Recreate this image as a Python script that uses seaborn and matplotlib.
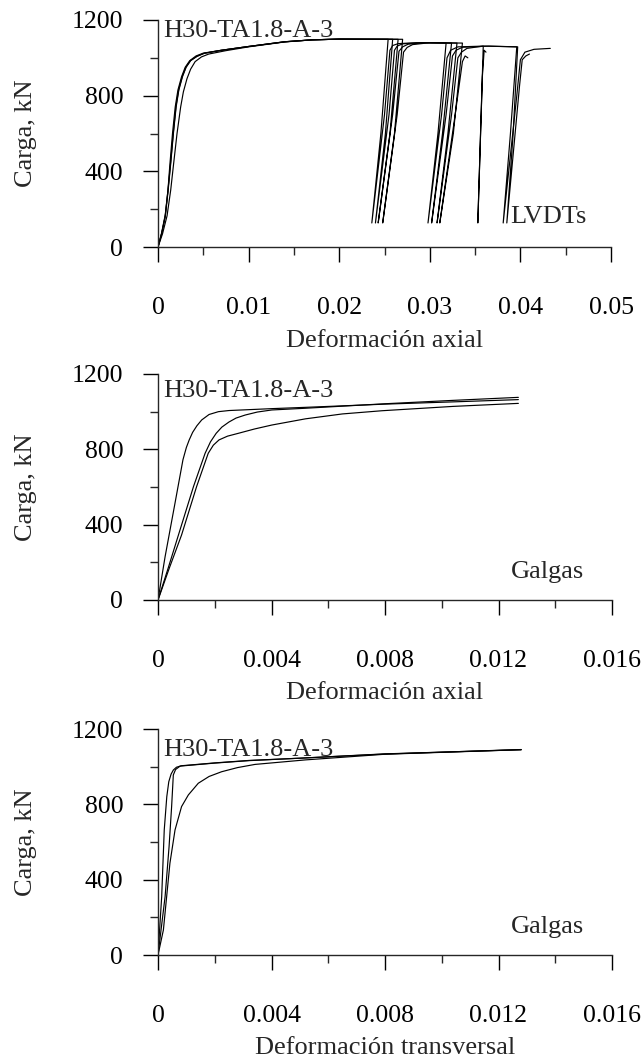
import numpy as np
import pandas as pd
import matplotlib
matplotlib.use("Agg")
import matplotlib.pyplot as plt
import seaborn as sns

# ---------------- data ----------------
# Panel 1: LVDTs (axial strain vs load) - four LVDT records with unload/reload cycles
lvdt_a_x = [0, 0.0004, 0.0008, 0.0011, 0.0013, 0.0016, 0.0019, 0.0022, 0.0026, 0.0030, 0.0035, 0.0042,
            0.0050, 0.0070, 0.0100, 0.0140, 0.0170, 0.0200, 0.0254,
            0.0246, 0.0236, 0.0250, 0.0256, 0.0259, 0.0265, 0.0285, 0.0318,
            0.0309, 0.0298, 0.0313, 0.0319, 0.0323, 0.0331, 0.0360, 0.0396,
            0.0389, 0.0381, 0.0396, 0.0400, 0.0405, 0.0415, 0.0433]
lvdt_a_y = [0, 70, 165, 300, 430, 600, 740, 830, 900, 950, 985, 1010,
            1025, 1040, 1060, 1085, 1095, 1099, 1098,
            600, 127, 700, 1040, 1065, 1075, 1080, 1078,
            600, 127, 700, 1000, 1040, 1058, 1062, 1058,
            600, 127, 800, 990, 1030, 1045, 1050]

lvdt_b_x = [0, 0.0004, 0.0008, 0.0011, 0.0014, 0.0017, 0.0020, 0.0023, 0.0027, 0.0031, 0.0036, 0.0043,
            0.0051, 0.0070, 0.0100, 0.0140, 0.0170, 0.0200, 0.0259,
            0.0251, 0.0240, 0.0255, 0.0261, 0.0264, 0.0270, 0.0290, 0.0324,
            0.0314, 0.0302, 0.0318, 0.0325, 0.0329, 0.0336, 0.0365, 0.0397,
            0.0392, 0.0385, 0.0399, 0.0402, 0.0406, 0.0410]
lvdt_b_y = [0, 70, 160, 290, 440, 600, 740, 830, 900, 950, 985, 1008,
            1024, 1040, 1060, 1085, 1095, 1099, 1098,
            600, 127, 700, 1040, 1062, 1074, 1080, 1078,
            600, 127, 700, 1010, 1040, 1056, 1062, 1058,
            600, 127, 850, 990, 1010, 1020]

lvdt_c_x = [0, 0.0004, 0.0008, 0.0011, 0.0014, 0.0017, 0.0020, 0.0023, 0.0027, 0.0031, 0.0036, 0.0043,
            0.0051, 0.0070, 0.0100, 0.0140, 0.0170, 0.0200, 0.0265,
            0.0256, 0.0243, 0.0259, 0.0266, 0.0270, 0.0276, 0.0295, 0.0330,
            0.0320, 0.0308, 0.0324, 0.0331, 0.0335, 0.0341, 0.0359,
            0.0356, 0.0353, 0.0358, 0.0360, 0.0362]
lvdt_c_y = [0, 75, 170, 300, 450, 610, 750, 835, 905, 952, 986, 1008,
            1024, 1040, 1060, 1085, 1095, 1099, 1098,
            600, 127, 700, 1035, 1058, 1072, 1080, 1078,
            600, 127, 700, 1000, 1030, 1050, 1062,
            600, 127, 900, 1040, 1030]

lvdt_d_x = [0, 0.0005, 0.0010, 0.0014, 0.0017, 0.0021, 0.0025, 0.0028, 0.0032, 0.0036, 0.0041, 0.0048,
            0.0056, 0.0075, 0.0100, 0.0140, 0.0170, 0.0200, 0.0270,
            0.0261, 0.0248, 0.0264, 0.0271, 0.0275, 0.0281, 0.0300, 0.0336,
            0.0326, 0.0311, 0.0328, 0.0336, 0.0339, 0.0342]
lvdt_d_y = [0, 70, 165, 300, 430, 600, 740, 820, 890, 940, 980, 1005,
            1020, 1038, 1058, 1084, 1095, 1099, 1098,
            600, 127, 700, 1030, 1055, 1070, 1080, 1078,
            600, 127, 700, 980, 1010, 1000]

# Panel 2: strain gauges, axial strain
gax_1_x = [0, 0.00025, 0.0006, 0.00088, 0.00100, 0.00110, 0.00122, 0.00137, 0.00154, 0.0018, 0.00213,
           0.0025, 0.00295, 0.0040, 0.0052, 0.0080, 0.0104, 0.0127]
gax_1_y = [0, 230, 515, 745, 810, 850, 890, 925, 956, 985, 1000,
           1006, 1009, 1016, 1023, 1040, 1052, 1064]
gax_2_x = [0, 0.00036, 0.00072, 0.00125, 0.00166, 0.00185, 0.00205, 0.00225, 0.00250, 0.00275, 0.00307,
           0.00350, 0.00401, 0.00518, 0.0080, 0.0104, 0.0127]
gax_2_y = [0, 170, 345, 602, 779, 840, 885, 918, 945, 966, 982,
           998, 1009, 1018, 1042, 1060, 1076]
gax_3_x = [0, 0.0004, 0.00083, 0.00136, 0.00177, 0.00195, 0.00215, 0.00245, 0.00283, 0.0034, 0.00401,
           0.0052, 0.0065, 0.0079, 0.0104, 0.0127]
gax_3_y = [0, 170, 345, 602, 779, 822, 850, 870, 885, 908, 929,
           962, 988, 1005, 1028, 1044]

# Panel 3: strain gauges, transverse strain
gtr_1_x = [0, 0.00013, 0.00022, 0.00031, 0.00038, 0.00046, 0.00054, 0.00065, 0.00083, 0.0020, 0.0032,
           0.0050, 0.0080, 0.0128]
gtr_1_y = [0, 310, 664, 841, 920, 960, 982, 997, 1005, 1020, 1033,
           1045, 1068, 1090]
gtr_2_x = [0, 0.00025, 0.00039, 0.00048, 0.00054, 0.00062, 0.00078, 0.0020, 0.0032, 0.0050, 0.0080, 0.0128]
gtr_2_y = [0, 310, 575, 788, 956, 985, 1003, 1019, 1032, 1045, 1067, 1091]
gtr_3_x = [0, 0.00019, 0.00042, 0.0006, 0.00083, 0.00107, 0.00142, 0.00180, 0.00224, 0.0028, 0.00342,
           0.0052, 0.0080, 0.0128]
gtr_3_y = [0, 133, 487, 664, 788, 850, 912, 948, 973, 995, 1012,
           1036, 1066, 1090]

# Ticks & labels
p1_xticks = [0, 0.01, 0.02, 0.03, 0.04, 0.05]
p1_xticklabels = ["0", "0.01", "0.02", "0.03", "0.04", "0.05"]
p1_xminor = [0.005, 0.015, 0.025, 0.035, 0.045]
p23_xticks = [0, 0.004, 0.008, 0.012, 0.016]
p23_xticklabels = ["0", "0.004", "0.008", "0.012", "0.016"]
p23_xminor = [0.002, 0.006, 0.010, 0.014]
yticks = [0, 400, 800, 1200]
yticklabels = ["0", "400", "800", "1200"]
yminor = [200, 600, 1000]

specimen = "H30-TA1.8-A-3"
ylabel = "Carga, kN"
xlabels = ["Deformación axial", "Deformación axial", "Deformación transversal"]
tags = ["LVDTs", "Galgas", "Galgas"]

# ---------------- style ----------------
sns.set_style("ticks")
plt.rcParams["font.family"] = ["Liberation Serif", "DejaVu Serif"]
plt.rcParams["axes.linewidth"] = 1.0

def frame(curves):
    rows = []
    for name, xs, ys in curves:
        for i, (xv, yv) in enumerate(zip(xs, ys)):
            rows.append({"curve": name, "order": i, "x": xv, "y": yv})
    return pd.DataFrame(rows)

panels = [
    frame([("A", lvdt_a_x, lvdt_a_y), ("B", lvdt_b_x, lvdt_b_y),
           ("C", lvdt_c_x, lvdt_c_y), ("D", lvdt_d_x, lvdt_d_y)]),
    frame([("1", gax_1_x, gax_1_y), ("2", gax_2_x, gax_2_y), ("3", gax_3_x, gax_3_y)]),
    frame([("1", gtr_1_x, gtr_1_y), ("2", gtr_2_x, gtr_2_y), ("3", gtr_3_x, gtr_3_y)]),
]

W, H = 644, 1063
fig = plt.figure(figsize=(W / 100, H / 100), dpi=100)

# axes boxes in pixels: (left, top, right, bottom)
boxes = [(158, 20, 611, 247), (158, 374, 612, 600), (158, 729, 612, 955)]
xlims = [0.05, 0.016, 0.016]
title_y = [0.924, 0.897, 0.880]
tag_y = [0.106, 0.096, 0.096]

for k, (df, box) in enumerate(zip(panels, boxes)):
    l, t, r, b = box
    ax = fig.add_axes([l / W, 1 - b / H, (r - l) / W, (b - t) / H])
    sns.lineplot(data=df, x="x", y="y", units="curve", estimator=None, sort=False,
                 color="black", linewidth=0.85, ax=ax, legend=False)
    ax.set_xlim(0, xlims[k])
    ax.set_ylim(0, 1200)
    sns.despine(ax=ax)
    if k == 0:
        ax.set_xticks(p1_xticks, p1_xticklabels)
        ax.set_xticks(p1_xminor, minor=True)
    else:
        ax.set_xticks(p23_xticks, p23_xticklabels)
        ax.set_xticks(p23_xminor, minor=True)
    ax.set_yticks(yticks, yticklabels)
    ax.set_yticks(yminor, minor=True)
    ax.tick_params(which="major", direction="out", length=11, width=1.0, labelsize=18.5, colors="black")
    ax.tick_params(which="minor", direction="out", length=5.5, width=1.0)
    ax.tick_params(axis="x", which="major", pad=25)
    ax.tick_params(axis="y", which="major", pad=14)
    ax.set_xlabel(xlabels[k], fontsize=19)
    ax.set_ylabel(ylabel, fontsize=19)
    ax.xaxis.set_label_coords(0.5, -0.365)
    ax.yaxis.set_label_coords(-0.267, 0.5)
    ax.text(0.012, title_y[k], specimen, transform=ax.transAxes, fontsize=19,
            ha="left", va="baseline")
    ax.text(0.778, tag_y[k], tags[k], transform=ax.transAxes, fontsize=19,
            ha="left", va="baseline")

fig.savefig("out.png", dpi=100, facecolor="white")
